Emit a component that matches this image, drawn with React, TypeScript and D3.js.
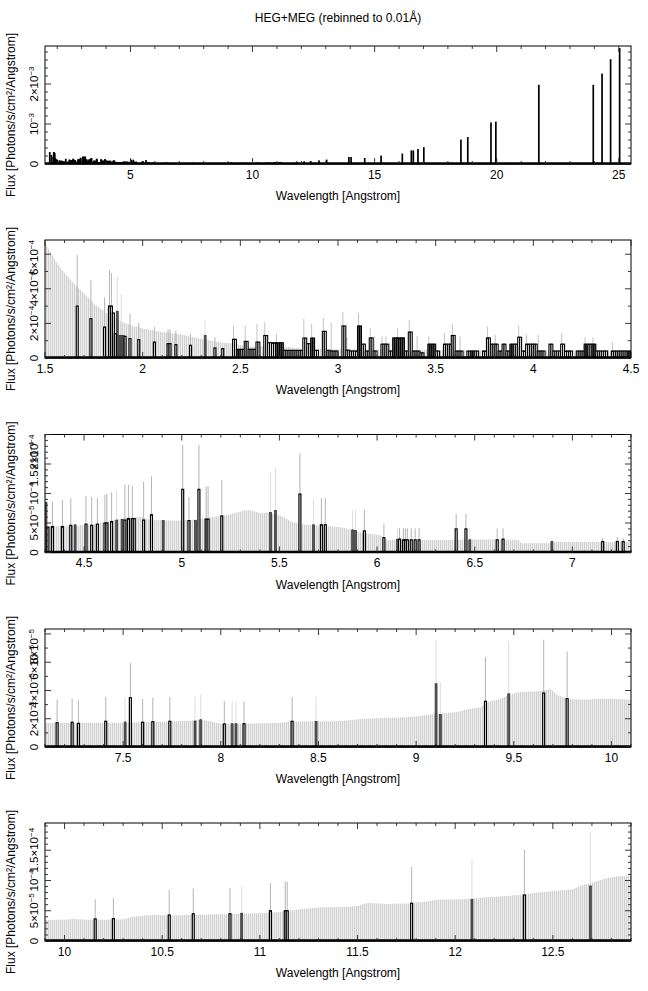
import * as d3 from 'd3'

// [bin start (Å), flux, upper end of error bar or null]
type Bar = [number, number, number | null]
type Pt = [number, number]

const chartTitle = 'HEG+MEG (rebinned to 0.01Å)'
const xAxisTitle = 'Wavelength [Angstrom]'
const yAxisTitle = 'Flux [Photons/s/cm²/Angstrom]'

const BIN = 0.01

// wavelength range and flux ceiling of the five panels
const xRanges: Pt[] = [[1.5, 25.5], [1.5, 4.5], [4.3, 7.3], [7.1, 10.1], [9.9, 12.9]]
const yCeilings = [2.95e-3, 6.82e-4, 2.0e-4, 8.35e-5, 1.95e-4]

const xTickLabels = [
  [5, 10, 15, 20, 25],
  [1.5, 2, 2.5, 3, 3.5, 4, 4.5],
  [4.5, 5, 5.5, 6, 6.5, 7],
  [7.5, 8, 8.5, 9, 9.5, 10],
  [10, 10.5, 11, 11.5, 12, 12.5],
]
const yTickLabels: [number, string][][] = [
  [[0, '0'], [1e-3, '10^−3'], [2e-3, '2×10^−3']],
  [[0, '0'], [2e-4, '2×10^−4'], [4e-4, '4×10^−4'], [6e-4, '6×10^−4']],
  [[0, '0'], [5e-5, '5×10^−5'], [1e-4, '10^−4'], [1.5e-4, '1.5×10^−4'], [2e-4, '2×10^−4']],
  [[0, '0'], [2e-5, '2×10^−5'], [4e-5, '4×10^−5'], [6e-5, '6×10^−5'], [8e-5, '8×10^−5']],
  [[0, '0'], [5e-5, '5×10^−5'], [1e-4, '10^−4'], [1.5e-4, '1.5×10^−4']],
]
const xMajorStep = [5, 0.5, 0.5, 0.5, 0.5]
const xMinorStep = [1, 0.1, 0.1, 0.1, 0.1]
const yMajorStep = [1e-3, 2e-4, 5e-5, 2e-5, 5e-5]
const yMinorStep = [2e-4, 1e-4, 1e-5, 1e-5, 1e-5]

// one-count level (light grey band) per panel
const p2Envelope: Pt[] = [
  [1.5, 6.6e-4], [1.53, 6.1e-4], [1.56, 5.5e-4], [1.6, 4.9e-4], [1.64, 4.4e-4], [1.68, 3.95e-4],
  [1.72, 3.5e-4], [1.76, 3.05e-4], [1.8, 2.7e-4], [1.85, 2.35e-4], [1.9, 2.05e-4], [1.95, 1.85e-4],
  [2.0, 1.7e-4], [2.1, 1.5e-4], [2.2, 1.35e-4], [2.3, 1.1e-4], [2.4, 0.9e-4], [2.45, 0.85e-4],
  [2.55, 0.65e-4], [2.7, 0.7e-4], [2.8, 0.55e-4], [3.0, 0.5e-4], [3.5, 0.45e-4], [4.0, 0.45e-4], [4.5, 0.45e-4],
]
const p3Envelope: Pt[] = [
  [4.3, 4.4e-5], [4.47, 4.5e-5], [4.48, 4.6e-5], [4.56, 4.8e-5], [4.62, 5.2e-5], [4.69, 5.7e-5],
  [4.79, 6.0e-5], [4.84, 5.5e-5], [4.99, 5.4e-5], [5.07, 5.6e-5], [5.14, 5.9e-5], [5.24, 6.4e-5],
  [5.31, 7.0e-5], [5.34, 7.2e-5], [5.41, 6.6e-5], [5.44, 6.8e-5], [5.51, 6.2e-5], [5.56, 5.2e-5],
  [5.63, 4.7e-5], [5.73, 4.5e-5], [5.81, 4.3e-5], [5.84, 4.1e-5], [5.88, 3.7e-5], [5.93, 3.3e-5],
  [6.02, 2.9e-5], [6.05, 2.1e-5], [6.39, 2.1e-5], [6.45, 2.2e-5], [6.72, 2.15e-5], [6.74, 1.55e-5],
  [6.89, 1.55e-5], [6.91, 1.8e-5], [7.3, 1.8e-5],
]
const p4Envelope: Pt[] = [
  [7.1, 1.7e-5], [7.5, 1.72e-5], [7.7, 1.78e-5], [7.85, 1.85e-5], [7.9, 1.92e-5], [7.95, 1.8e-5],
  [8.0, 1.62e-5], [8.1, 1.65e-5], [8.3, 1.7e-5], [8.35, 1.8e-5], [8.6, 1.82e-5], [8.66, 1.9e-5],
  [8.73, 2.0e-5], [8.93, 2.08e-5], [9.0, 2.15e-5], [9.08, 2.3e-5], [9.12, 2.35e-5], [9.22, 2.5e-5],
  [9.26, 2.68e-5], [9.33, 2.8e-5], [9.36, 3.15e-5], [9.43, 3.4e-5], [9.46, 3.6e-5], [9.53, 3.9e-5],
  [9.63, 3.95e-5], [9.69, 4.1e-5], [9.72, 3.7e-5], [9.77, 3.4e-5], [9.87, 3.35e-5], [9.92, 3.4e-5],
  [10.01, 3.4e-5], [10.1, 3.35e-5],
]
const p5Envelope: Pt[] = [
  [9.9, 3.45e-5], [10.0, 3.5e-5], [10.05, 3.65e-5], [10.1, 3.5e-5], [10.2, 3.5e-5], [10.3, 3.55e-5],
  [10.35, 4.0e-5], [10.45, 4.3e-5], [10.55, 4.2e-5], [10.7, 4.35e-5], [10.85, 4.45e-5], [11.0, 4.6e-5],
  [11.1, 4.8e-5], [11.2, 5.2e-5], [11.3, 5.55e-5], [11.45, 5.6e-5], [11.5, 5.8e-5], [11.55, 6.3e-5],
  [11.65, 6.1e-5], [11.75, 6.2e-5], [11.85, 6.5e-5], [11.9, 6.8e-5], [12.05, 6.9e-5], [12.15, 7.2e-5],
  [12.3, 7.5e-5], [12.45, 8.1e-5], [12.6, 8.5e-5], [12.65, 9.2e-5], [12.72, 9.8e-5], [12.78, 10.4e-5],
  [12.84, 10.7e-5], [12.9, 10.8e-5],
]

// counted bins: black outlined (MEG) and dark grey (HEG)
const p2Black: Bar[] = [
  [1.66, 3.0e-4, 5.95e-4], [1.73, 2.27e-4, 4.5e-4], [1.8, 1.79e-4, 3.5e-4], [1.825, 3.0e-4, 5.1e-4],
  [1.835, 3.0e-4, 4.9e-4], [1.845, 2.6e-4, null], [1.855, 1.4e-4, null], [1.905, 1.25e-4, null],
  [1.93, 1.12e-4, 2.56e-4], [1.975, 1.06e-4, 2.04e-4], [2.055, 0.92e-4, 1.8e-4], [2.125, 0.83e-4, 1.65e-4],
  [2.135, 0.83e-4, 1.65e-4], [2.165, 0.77e-4, 1.6e-4], [2.24, 0.73e-4, 1.38e-4], [2.365, 0.58e-4, 1.2e-4],
  [2.405, 0.54e-4, null],
]
const p2Dark: Bar[] = [
  [1.865, 2.7e-4, 4.7e-4], [1.875, 1.31e-4, null], [1.885, 1.31e-4, 3.7e-4], [1.895, 1.31e-4, null],
  [2.315, 1.31e-4, 2.17e-4],
]
const p3Black: Bar[] = [
  [4.31, 4.3e-5, null], [4.333, 4.4e-5, 8.6e-5], [4.384, 4.4e-5, 8.9e-5], [4.427, 4.6e-5, 9.2e-5],
  [4.505, 4.8e-5, 9.6e-5], [4.534, 4.6e-5, 9.4e-5], [4.563, 4.8e-5, 9.2e-5], [4.602, 5.0e-5, 9.8e-5],
  [4.612, 5.0e-5, 10.0e-5], [4.636, 5.25e-5, 10.2e-5], [4.704, 5.5e-5, 11.5e-5], [4.722, 5.75e-5, 11.5e-5],
  [4.742, 5.75e-5, 11.3e-5], [4.752, 5.75e-5, null], [4.8, 5.5e-5, 12.0e-5], [4.84, 6.4e-5, 12.9e-5],
  [5.0, 10.7e-5, 18.2e-5], [5.032, 5.4e-5, 9.4e-5], [5.083, 10.7e-5, 18.2e-5], [5.12, 5.65e-5, 11.2e-5],
  [5.13, 5.65e-5, 11.2e-5], [5.2, 6.2e-5, 12.3e-5], [5.6, 9.9e-5, 16.8e-5], [5.71, 4.7e-5, 9.2e-5],
  [5.73, 4.7e-5, 9.2e-5], [5.93, 3.67e-5, 7.2e-5], [6.03, 2.5e-5, 4.9e-5], [6.11, 2.26e-5, 4.1e-5],
  [6.13, 2.15e-5, 4.1e-5], [6.14, 2.15e-5, 4.1e-5], [6.15, 2.15e-5, 4.1e-5], [6.17, 2.15e-5, 4.1e-5],
  [6.19, 2.15e-5, 4.1e-5], [6.21, 2.15e-5, 4.1e-5], [6.4, 4.0e-5, 6.55e-5], [6.45, 4.0e-5, 6.55e-5],
  [6.61, 2.15e-5, 4.1e-5], [6.64, 2.26e-5, 4.1e-5], [7.15, 1.86e-5, 2.45e-5], [7.225, 1.86e-5, 2.65e-5],
  [7.255, 1.86e-5, 2.45e-5],
]
const p3Dark: Bar[] = [
  [4.3, 8.5e-5, 14.6e-5], [4.449, 4.7e-5, null], [4.662, 5.5e-5, 10.5e-5], [4.69, 5.6e-5, null],
  [4.9, 5.4e-5, null], [5.066, 5.4e-5, null], [5.45, 6.8e-5, 13.7e-5], [5.475, 7.1e-5, 14.3e-5],
  [5.67, 4.7e-5, 9.2e-5], [5.87, 3.84e-5, 7.2e-5], [5.885, 3.75e-5, 7.2e-5], [6.1, 2.26e-5, 4.1e-5],
  [6.47, 2.15e-5, 4.1e-5], [6.89, 1.86e-5, 2.45e-5],
]
const p4Black: Bar[] = [
  [7.157, 1.72e-5, 3.37e-5], [7.234, 1.75e-5, 3.42e-5], [7.266, 1.67e-5, 3.3e-5], [7.406, 1.82e-5, 3.54e-5],
  [7.532, 3.49e-5, 5.94e-5], [7.595, 1.75e-5, 3.42e-5], [7.647, 1.79e-5, 3.49e-5], [7.734, 1.82e-5, 3.54e-5],
  [8.013, 1.63e-5, 3.23e-5], [8.114, 1.65e-5, 3.23e-5], [8.36, 1.82e-5, 3.54e-5], [9.35, 3.23e-5, 6.37e-5],
  [9.648, 3.82e-5, 7.59e-5], [9.768, 3.42e-5, 6.77e-5],
]
const p4Dark: Bar[] = [
  [7.505, 1.77e-5, 3.49e-5], [7.863, 1.84e-5, 3.58e-5], [7.892, 1.93e-5, 3.73e-5], [8.053, 1.65e-5, 3.23e-5],
  [8.073, 1.65e-5, 3.23e-5], [8.483, 1.82e-5, 3.58e-5], [9.097, 4.48e-5, 7.59e-5], [9.119, 2.29e-5, 4.55e-5],
  [9.469, 3.77e-5, 7.5e-5],
]
const p5Black: Bar[] = [
  [10.152, 3.65e-5, 6.9e-5], [10.245, 3.7e-5, 7.07e-5], [10.531, 4.3e-5, 8.45e-5], [10.654, 4.5e-5, 8.7e-5],
  [10.842, 4.5e-5, 8.7e-5], [11.049, 5.0e-5, 9.56e-5], [11.125, 5.0e-5, 9.8e-5], [11.135, 5.0e-5, 9.8e-5],
  [11.772, 6.24e-5, 12.3e-5], [12.349, 7.6e-5, 15.1e-5],
]
const p5Dark: Bar[] = [
  [10.902, 4.6e-5, 9.0e-5], [12.081, 6.9e-5, 13.5e-5], [12.687, 9.1e-5, 18.0e-5],
]

// 2.44-4.50 Å where almost every bin has counts: read at 0.02 Å, flux in 1e-4
const DENSE_START = 2.44
const DENSE_BIN = 0.02
const DENSE_UNIT = 1e-4
const denseFlux = [
  0, 1.08, 0.5, 0.5, 0.96, 0.5, 0.5, 0.92, 0, 1.3, 0.88, 0.88, 0.88, 0.88, 0.44, 0.44, 0.44, 0.44, 0.44, 1.15,
  0.83, 1.15, 0.44, 0, 1.54, 0.44, 0.4, 0.4, 0, 1.85, 0.45, 0.4, 0.4, 1.85, 0.8, 0.4, 1.16, 0.4, 0, 0.8,
  0.8, 0.4, 1.16, 1.16, 1.16, 0.4, 1.5, 0.4, 0.4, 0.3, 0, 0.8, 0.8, 0.4, 0, 0.8, 0.8, 1.3, 0.4, 0.4,
  0, 0.4, 0.4, 0.4, 0, 0.4, 1.16, 0.8, 0.8, 0.4, 0.8, 0.4, 0.8, 0.8, 1.2, 0.4, 0.8, 0.8, 0.8, 0.4,
  0.4, 0, 0.8, 0.4, 0.4, 0.8, 0.4, 0.4, 0, 0.4, 0.4, 0.8, 0.8, 0.8, 0.4, 0.4, 0.4, 0, 0.4, 0.4,
  0.4, 0.4, 0.4,
]
const denseDarkBins = [2.48, 2.68, 2.70, 2.86, 3.10, 3.28, 3.30, 3.32, 3.46, 3.48, 3.68, 3.88, 4.26, 4.30, 4.48]
const denseErrors: Pt[] = [
  [2.46, 1.85], [2.52, 1.88], [2.58, 1.98], [2.62, 2.08], [2.68, 1.4], [2.82, 2.27], [2.86, 1.98], [2.92, 2.3],
  [2.96, 2.04], [3.02, 2.64], [3.04, 1.2], [3.10, 2.6], [3.16, 1.73], [3.18, 1.25], [3.22, 1.25], [3.24, 1.25],
  [3.30, 1.73], [3.36, 2.2], [3.40, 1.25], [3.46, 1.25], [3.54, 1.45], [3.58, 2.0], [3.62, 1.25], [3.76, 1.83],
  [3.80, 1.35], [3.92, 1.87], [3.96, 1.35], [4.02, 1.35], [4.14, 1.45], [4.26, 1.2], [4.30, 1.2], [4.40, 0.9],
]

// strong lines beyond 12.9 Å, only seen in the overview
const longLines: Pt[] = [
  [13.0, 1.1e-4], [13.91, 1.75e-4], [14.0, 1.75e-4], [14.56, 1.5e-4], [15.23, 2.1e-4], [16.1, 2.6e-4],
  [16.47, 3.4e-4], [16.55, 3.4e-4], [16.74, 3.75e-4], [16.98, 4.2e-4], [18.5, 6.1e-4], [18.78, 6.75e-4],
  [19.73, 1.04e-3], [19.93, 1.06e-3], [21.69, 1.98e-3], [23.92, 1.98e-3], [24.28, 2.26e-3], [24.63, 2.62e-3],
  [25.0, 2.9e-3],
]

const panelData = [
  null,
  { envelope: p2Envelope, black: p2Black, dark: p2Dark, dense: true },
  { envelope: p3Envelope, black: p3Black, dark: p3Dark, dense: false },
  { envelope: p4Envelope, black: p4Black, dark: p4Dark, dense: false },
  { envelope: p5Envelope, black: p5Black, dark: p5Dark, dense: false },
]

const W = 648
const H = 991
const PLOT_L = 45
const PLOT_R = 631
const PANEL_H = 118
const panelTops = [46, 240, 434.5, 629, 823]
const FONT = "'Liberation Sans', Arial, Helvetica, sans-serif"

function stepTicks(lo: number, hi: number, step: number) {
  const out: number[] = []
  const a = Math.ceil(lo / step - 1e-6)
  const b = Math.floor(hi / step + 1e-6)
  for (let k = a; k <= b; k++) out.push(+(k * step).toFixed(10))
  return out
}

function SupLabel({ label, ...rest }: any) {
  const [base, exp] = label.split('^')
  return (
    <text {...rest}>
      {base}
      {exp && <tspan dy={-4.5} fontSize={8}>{exp}</tspan>}
    </text>
  )
}

// dense readings drawn on the 0.01 Å grid of the plot
const denseBins = denseFlux.flatMap((f, i) => {
  const start = +(DENSE_START + i * DENSE_BIN).toFixed(3)
  const dark = denseDarkBins.some(d => Math.abs(d - start) < 1e-6)
  return [0, BIN].map(o => ({ start: +(start + o).toFixed(3), flux: f * DENSE_UNIT, dark }))
}).filter(b => b.flux > 0)

function Panel({ index, top }: { index: number; top: number }) {
  const [x0, x1] = xRanges[index]
  const bottom = top + PANEL_H
  const x = d3.scaleLinear().domain([x0, x1]).range([PLOT_L, PLOT_R])
  const y = d3.scaleLinear().domain([0, yCeilings[index]]).range([bottom, top])
  const data = panelData[index]
  const clip = `url(#clip${index})`

  let marks: any = null
  if (!data) {
    // overview: every counted bin as a solid black bar
    const all: Pt[] = [
      ...[p2Black, p2Dark, p3Black, p3Dark, p4Black, p4Dark, p5Black, p5Dark].flat().map(b => [b[0], b[1]] as Pt),
      ...denseBins.map(b => [b.start, b.flux] as Pt),
      ...longLines,
    ]
    marks = all.map(([l, f], i) => {
      const w = Math.max(1.7, x(l + BIN) - x(l))
      return <rect key={i} x={x(l)} y={y(f)} width={w} height={bottom - y(f)} fill="#000" />
    })
  } else {
    const area = d3.area<Pt>().x(d => x(d[0])).y0(bottom).y1(d => y(d[1]))
    const env = area(data.envelope) || ''
    const errLine = (b: Bar, color: string, k: string) =>
      b[2] == null ? null : (
        <line key={k} x1={x(b[0] + BIN / 2)} x2={x(b[0] + BIN / 2)} y1={y(b[1])} y2={y(b[2])}
          stroke={color} strokeWidth={1} />
      )
    marks = (
      <g>
        <path d={env} fill="#eeeeee" />
        <path d={env} fill="url(#hatch)" />
        {data.dark.map((b, i) => errLine(b, '#dedede', 'de' + i))}
        {data.black.map((b, i) => errLine(b, '#b4b4b4', 'be' + i))}
        {data.dense && denseErrors.map(([l, t], i) => (
          <line key={'ne' + i} x1={x(l + BIN / 2)} x2={x(l + BIN / 2)} y1={y(0)} y2={y(t * DENSE_UNIT)}
            stroke="#c4c4c4" strokeWidth={1} />
        ))}
        {data.dark.map((b, i) => (
          <rect key={'d' + i} x={x(b[0])} y={y(b[1])} width={x(b[0] + BIN) - x(b[0])} height={bottom - y(b[1])}
            fill="#575757" stroke="#333" strokeWidth={0.7} />
        ))}
        {data.black.map((b, i) => (
          <rect key={'b' + i} x={x(b[0])} y={y(b[1])} width={x(b[0] + BIN) - x(b[0])} height={bottom - y(b[1])}
            fill="#fff" stroke="#000" strokeWidth={1.2} />
        ))}
        {data.dense && denseBins.map((b, i) => (
          <rect key={'n' + i} x={x(b.start)} y={y(b.flux)} width={x(b.start + BIN) - x(b.start)}
            height={bottom - y(b.flux)} fill={b.dark ? '#575757' : '#fff'} stroke="#000" strokeWidth={1.1} />
        ))}
      </g>
    )
  }

  const xMinor = stepTicks(x0, x1, xMinorStep[index])
  const yMinor = stepTicks(0, yCeilings[index], yMinorStep[index])
  const isMajor = (v: number, s: number) => Math.abs(v / s - Math.round(v / s)) < 1e-6
  const cy = top + PANEL_H / 2

  return (
    <g>
      <g clipPath={clip}>{marks}</g>
      {/* zero line of the data */}
      <line x1={PLOT_L} x2={PLOT_R} y1={bottom - 0.5} y2={bottom - 0.5} stroke="#000" strokeWidth={2.4} />
      <rect x={PLOT_L} y={top} width={PLOT_R - PLOT_L} height={PANEL_H} fill="none" stroke="#000" strokeWidth={1} />
      {xMinor.map(v => {
        const len = isMajor(v, xMajorStep[index]) ? 6 : 3
        const xx = x(v)
        return (
          <g key={'xt' + v} stroke="#222" strokeWidth={0.9}>
            <line x1={xx} x2={xx} y1={bottom} y2={bottom - len} />
            <line x1={xx} x2={xx} y1={top} y2={top + len} />
          </g>
        )
      })}
      {yMinor.map(v => {
        const len = isMajor(v, yMajorStep[index]) ? 6 : 3
        const yy = y(v)
        return (
          <g key={'yt' + v} stroke="#222" strokeWidth={0.9}>
            <line x1={PLOT_L} x2={PLOT_L + len} y1={yy} y2={yy} />
            <line x1={PLOT_R} x2={PLOT_R - len} y1={yy} y2={yy} />
          </g>
        )
      })}
      {xTickLabels[index].map(v => (
        <text key={'xl' + v} x={x(v)} y={bottom + 14.5} textAnchor="middle" fontSize={12}>{v}</text>
      ))}
      {yTickLabels[index].map(([v, lab]) => {
        const yy = y(v)
        const atTop = yy - top < 15
        return (
          <SupLabel key={'yl' + v} label={lab} fontSize={11.5} textAnchor={atTop ? 'end' : 'middle'}
            transform={`translate(38,${atTop ? top : yy}) rotate(-90)`} />
        )
      })}
      <text x={(PLOT_L + PLOT_R) / 2} y={bottom + 36} textAnchor="middle" fontSize={12}>{xAxisTitle}</text>
      <text transform={`translate(15,${cy + 10}) rotate(-90)`} textAnchor="middle" fontSize={12}>{yAxisTitle}</text>
    </g>
  )
}

export default function App() {
  return (
    <svg width={W} height={H} viewBox={`0 0 ${W} ${H}`} fontFamily={FONT}
      style={{ position: 'absolute', left: 0, top: 0, background: '#fff' }}>
      <defs>
        <pattern id="hatch" patternUnits="userSpaceOnUse" width={2} height={4}>
          <rect x={0} y={0} width={1} height={4} fill="#d0d0d0" />
        </pattern>
        {panelTops.map((t, i) => (
          <clipPath key={i} id={`clip${i}`}>
            <rect x={PLOT_L} y={t} width={PLOT_R - PLOT_L} height={PANEL_H} />
          </clipPath>
        ))}
      </defs>
      <rect x={0} y={0} width={W} height={H} fill="#fff" />
      <text x={(PLOT_L + PLOT_R) / 2} y={22} textAnchor="middle" fontSize={12}>{chartTitle}</text>
      {panelTops.map((t, i) => <Panel key={i} index={i} top={t} />)}
    </svg>
  )
}
